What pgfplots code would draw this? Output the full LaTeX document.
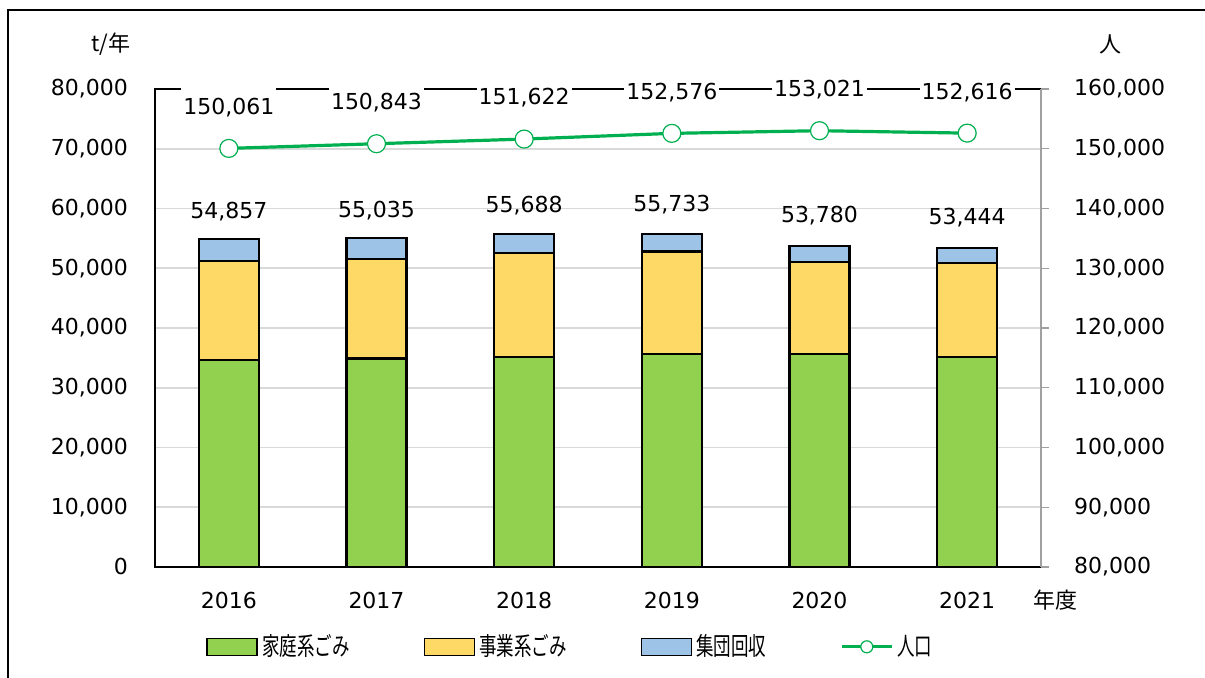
\documentclass[border=0pt]{standalone}
\usepackage{fontspec}
\setmainfont{DejaVu Sans}
\newfontfamily\jp{Noto Sans CJK JP}
\newfontfamily\jpn[FakeStretch=0.7]{Noto Sans CJK JP}
\usepackage{pgfplots}
\pgfplotsset{compat=1.18}

\definecolor{cGreen}{HTML}{92D050}
\definecolor{cYellow}{HTML}{FFD966}
\definecolor{cBlue}{HTML}{9DC3E6}
\definecolor{cLine}{HTML}{00B050}
\definecolor{cGrid}{HTML}{D9D9D9}
\definecolor{cAxis}{HTML}{A0A0A0}

\pgfkeys{/pgf/number format/.cd,1000 sep={,},fixed,precision=0,assume math mode=true}
\pgfplotsset{
  barlegend/.style={legend image code/.code={\draw[##1] (0pt,-4.25pt) rectangle (25pt,4.25pt);}},
  linelegend/.style={legend image code/.code={\draw[mark repeat=2, mark phase=2, ##1, mark size=3pt] plot coordinates {(0pt,0pt) (12.5pt,0pt) (25pt,0pt)};}},
  barseg/.style={fill=#1, draw=black, line width=1.1pt},
}

\begin{document}
\begin{tikzpicture}
\useasboundingbox (0,0) rectangle (602.5pt,339pt);
\draw[line width=1pt] (4pt,-2pt) -- (4pt,334pt) -- (605pt,334pt);

% bars: left axis
\begin{axis}[
  at={(77.5pt,55.5pt)}, anchor=south west,
  scale only axis, width=443pt, height=239pt,
  ybar stacked, bar width=30pt,
  xmin=-0.5, xmax=5.5, ymin=0, ymax=80000,
  xtick={0,...,5}, xticklabels={2016,2017,2018,2019,2020,2021},
  ytick={0,10000,...,80000}, scaled y ticks=false,
  ymajorgrids, grid style={cGrid, line width=0.8pt},
  axis line style={black, line width=0.9pt},
  tick style={draw=none},
  tick label style={font=\fontsize{11}{13}\selectfont},
  xticklabel style={yshift=-9pt},
  yticklabel style={xshift=-10pt},
  clip=false,
]
\addplot[barseg=cGreen] coordinates {(0,34600)(1,34900)(2,35100)(3,35700)(4,35700)(5,35200)};
\addplot[barseg=cYellow] coordinates {(0,16650)(1,16700)(2,17400)(3,17100)(4,15400)(5,15700)};
\addplot[barseg=cBlue, point meta=explicit, nodes near coords,
  every node near coord/.append style={draw=none, font=\fontsize{11}{13}\selectfont, anchor=center, yshift=19pt}]
  coordinates {(0,3607)[54857] (1,3435)[55035] (2,3188)[55688] (3,2933)[55733] (4,2680)[53780] (5,2544)[53444]};
\node[font=\jp\fontsize{11}{13}\selectfont] at (axis description cs:-0.05,1.094) {t/年};
\node[font=\jp\fontsize{11}{13}\selectfont] at (axis description cs:1.078,1.094) {人};
\node[font=\jp\fontsize{11}{13}\selectfont] at (axis description cs:1.016,-0.069) {年度};
\end{axis}

% line: right axis
\begin{axis}[
  at={(77.5pt,55.5pt)}, anchor=south west,
  scale only axis, width=443pt, height=239pt,
  xmin=-0.5, xmax=5.5, ymin=80000, ymax=160000,
  axis x line=none, axis y line*=right,
  axis line style={cAxis, line width=0.8pt},
  ytick={80000,90000,...,160000}, scaled y ticks=false,
  tick align=outside, major tick length=4pt,
  ytick style={cAxis, line width=0.6pt},
  tick label style={font=\fontsize{11}{13}\selectfont},
  yticklabel style={xshift=9pt},
  clip=false,
  legend columns=4,
  legend style={draw=none, fill=none, at={(axis description cs:0.47,-0.167)}, anchor=center,
    font=\jpn\fontsize{12.5}{14}\selectfont,
    /tikz/every even column/.append style={column sep=35pt},
    /tikz/every odd column/.append style={column sep=0pt}},
  legend cell align=left,
]
\addlegendimage{barseg=cGreen, line width=0.8pt, barlegend}
\addlegendimage{barseg=cYellow, line width=0.8pt, barlegend}
\addlegendimage{barseg=cBlue, line width=0.8pt, barlegend}
\addplot[cLine, line width=1.6pt, mark=*, mark size=4.5pt,
  mark options={fill=white, draw=cLine, line width=0.6pt},
  nodes near coords, point meta=y,
  every node near coord/.append style={black, fill=white, font=\fontsize{11}{13}\selectfont,
    anchor=center, yshift=20.5pt, inner xsep=1pt, minimum height=21pt},
  linelegend]
  coordinates {(0,150061)(1,150843)(2,151622)(3,152576)(4,153021)(5,152616)};
\legend{家庭系ごみ,事業系ごみ,集団回収,人口}
\end{axis}
\end{tikzpicture}
\end{document}
